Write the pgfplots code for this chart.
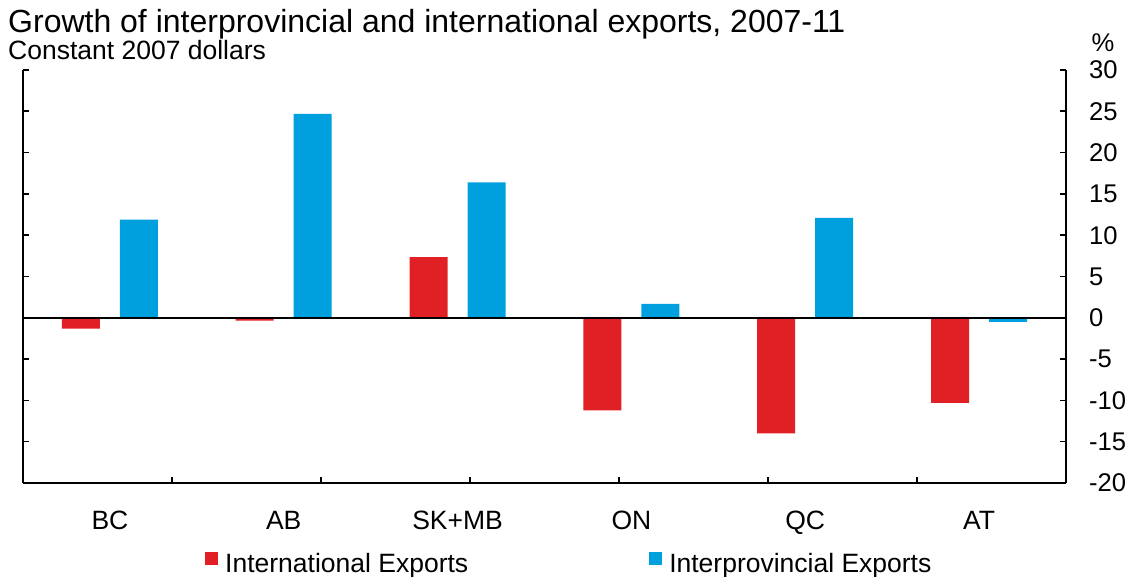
\documentclass[border=0pt]{standalone}
\usepackage{fontspec}
\setmainfont{Liberation Sans}
\usepackage{pgfplots}
\pgfplotsset{compat=1.18}
\definecolor{intl}{RGB}{224,32,36}
\definecolor{inter}{RGB}{0,160,222}
\begin{document}
\begin{tikzpicture}
\path[use as bounding box] (-23pt,-94pt) rectangle (1110pt,483pt);
\begin{axis}[
  at={(0pt,0pt)}, anchor=south west,
  width=1043pt, height=413pt, scale only axis,
  xmin=-0.5, xmax=5.5, ymin=-20, ymax=30,
  axis x line*=bottom, axis y line*=box,
  axis line style={line width=1.6pt, black},
  every tick/.style={black, line width=1.6pt},
  tick align=inside, major tick length=6pt,
  xtick={0.35714,1.21429,2.07143,2.92857,3.78571,4.64286},
  xticklabels={},
  extra x ticks={0,1,2,3,4,5},
  extra x tick labels={BC,AB,SK+MB,ON,QC,AT},
  extra x tick style={major tick length=0pt,
     tick label style={anchor=base, yshift=-47pt, inner sep=0pt, font=\fontsize{26.5}{30}\selectfont}},
  ytick={-20,-15,...,30},
  ytick pos=both, yticklabel pos=right,
  /pgf/number format/assume math mode=true,
  yticklabel style={anchor=west, inner sep=0pt, xshift=23pt, font=\fontsize{25.6}{30}\selectfont},
  legend columns=2,
  legend style={draw=none, fill=none, at={(rel axis cs:0.1745,-0.194)}, anchor=west,
     inner sep=0pt, font=\fontsize{26.5}{31}\selectfont,
     /tikz/every odd column/.append style={column sep=7pt},
     /tikz/every even column/.append style={column sep=181pt},
     nodes={inner sep=0pt}},
  legend cell align=left,
]
\addplot[ybar, bar width=38pt, bar shift=-29pt, fill=intl, draw=none,
  legend image code/.code={\fill[intl] (0pt,-1pt) rectangle (13pt,12pt);}]
  coordinates {(0,-1.3) (1,-0.35) (2,7.35) (3,-11.2) (4,-14.0) (5,-10.3)};
\addlegendentry{International Exports}
\addplot[ybar, bar width=38pt, bar shift=29pt, fill=inter, draw=none,
  legend image code/.code={\fill[inter] (0pt,-1pt) rectangle (13pt,12pt);}]
  coordinates {(0,11.9) (1,24.7) (2,16.4) (3,1.7) (4,12.1) (5,-0.5)};
\addlegendentry{Interprovincial Exports}
\draw[black, line width=1.6pt] (axis cs:-0.5,0) -- (axis cs:5.5,0);
\end{axis}
\node[anchor=base west, inner sep=0pt, font=\fontsize{32}{36}\selectfont] at (-15pt,450pt)
  {Growth of interprovincial and international exports, 2007-11};
\node[anchor=base west, inner sep=0pt, font=\fontsize{26.5}{30}\selectfont] at (-15pt,423.5pt)
  {Constant 2007 dollars};
\node[anchor=base, inner sep=0pt, font=\fontsize{25.6}{30}\selectfont] at (1080pt,431pt) {\%};
\end{tikzpicture}
\end{document}
